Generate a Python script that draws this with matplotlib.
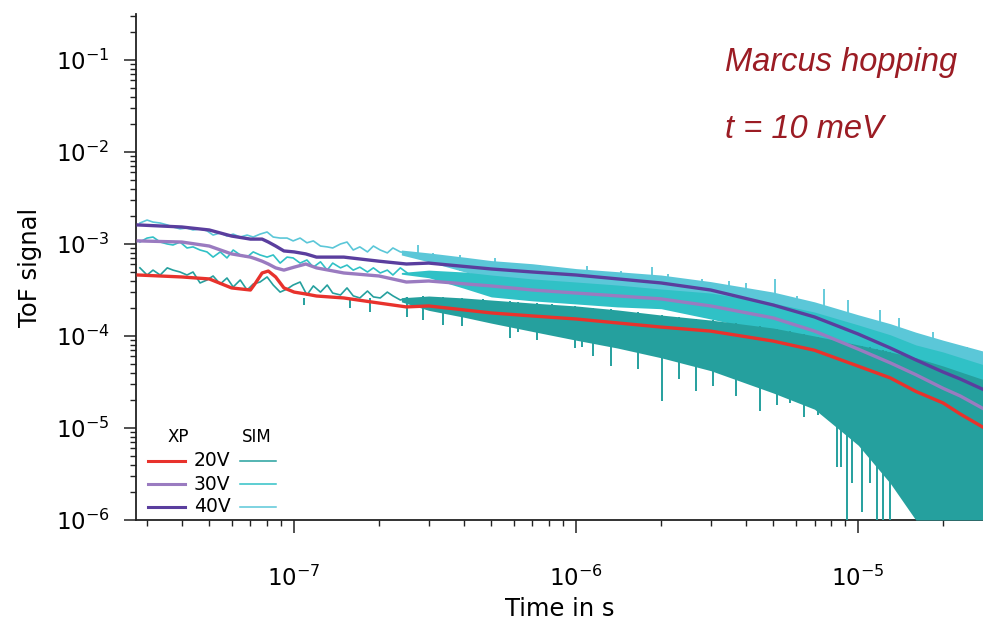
import numpy as np
import matplotlib
matplotlib.use("Agg")
import matplotlib.pyplot as plt
from matplotlib.lines import Line2D

plt.rcParams['font.family'] = ['DejaVu Sans']
plt.rcParams['mathtext.default'] = 'regular'

t_xp = [2.8e-8, 4e-8, 5e-8, 6e-8, 7e-8, 7.3e-8, 7.7e-8, 8.1e-8, 8.6e-8, 9.2e-8,
        1e-7, 1.1e-7, 1.2e-7, 1.5e-7, 2e-7, 2.5e-7, 3e-7, 5e-7, 7e-7, 1e-6,
        2e-6, 3e-6, 5e-6, 7e-6, 1e-5, 1.3e-5, 1.6e-5, 2e-5, 2.3e-5, 2.8e-5]
xp_20v = [4.6e-4, 4.38e-4, 4.17e-4, 3.33e-4, 3.16e-4, 3.77e-4, 4.84e-4, 5.08e-4, 4.38e-4, 3.33e-4,
          3.0e-4, 2.86e-4, 2.72e-4, 2.59e-4, 2.28e-4, 2.07e-4, 2.12e-4, 1.78e-4, 1.65e-4, 1.53e-4,
          1.25e-4, 1.13e-4, 8.8e-5, 7.0e-5, 4.7e-5, 3.5e-5, 2.5e-5, 1.87e-5, 1.42e-5, 1.0e-5]
xp_30v = [1.08e-3, 1.05e-3, 9.5e-4, 7.8e-4, 7.2e-4, 6.9e-4, 6.5e-4, 6.06e-4, 5.5e-4, 5.2e-4,
          5.6e-4, 6.06e-4, 5.5e-4, 4.84e-4, 4.49e-4, 3.86e-4, 3.96e-4, 3.5e-4, 3.16e-4, 2.93e-4,
          2.53e-4, 2.12e-4, 1.57e-4, 1.13e-4, 7.2e-5, 5.1e-5, 3.8e-5, 2.7e-5, 2.23e-5, 1.6e-5]
xp_40v = [1.61e-3, 1.53e-3, 1.42e-3, 1.22e-3, 1.13e-3, 1.13e-3, 1.13e-3, 1.05e-3, 9.5e-4, 8.4e-4,
          8.2e-4, 7.8e-4, 7.2e-4, 7.2e-4, 6.5e-4, 6.06e-4, 6.2e-4, 5.35e-4, 4.96e-4, 4.6e-4,
          3.77e-4, 3.16e-4, 2.17e-4, 1.61e-4, 1.05e-4, 7.4e-5, 5.5e-5, 4.06e-5, 3.41e-5, 2.59e-5]

# ---- simulation (SIM), early part as a line ----
t_sim_early = [2.84e-8, 3.01e-8, 3.16e-8, 3.35e-8, 3.55e-8, 3.72e-8, 3.94e-8, 4.17e-8, 4.38e-8, 4.64e-8,
               4.91e-8, 5.16e-8, 5.47e-8, 5.78e-8, 6.08e-8, 6.44e-8, 6.81e-8, 7.16e-8, 7.57e-8, 8.02e-8,
               8.43e-8, 8.92e-8, 9.44e-8, 9.92e-8, 1.05e-7, 1.11e-7, 1.17e-7, 1.24e-7, 1.31e-7, 1.37e-7,
               1.46e-7, 1.54e-7, 1.62e-7, 1.71e-7, 1.82e-7, 1.91e-7, 2.02e-7, 2.14e-7, 2.24e-7, 2.38e-7,
               2.52e-7]
sim_20v_early = [5.5e-4, 4.6e-4, 5.2e-4, 4.6e-4, 5.5e-4, 5.2e-4, 4.96e-4, 4.6e-4, 4.96e-4, 3.77e-4,
                 4.06e-4, 4.49e-4, 3.67e-4, 4.27e-4, 3.41e-4, 4.06e-4, 3.16e-4, 3.67e-4, 3.86e-4, 4.38e-4,
                 3.58e-4, 3.0e-4, 3.24e-4, 3.58e-4, 3.86e-4, 2.79e-4, 3.5e-4, 3.0e-4, 3.58e-4, 2.93e-4,
                 2.79e-4, 3.33e-4, 2.73e-4, 2.59e-4, 3.08e-4, 2.66e-4, 2.59e-4, 3.0e-4, 2.73e-4, 2.46e-4,
                 2.59e-4]
sim_30v_early = [1.05e-3, 1.16e-3, 1.19e-3, 1.05e-3, 1.0e-3, 9.75e-4, 1.05e-3, 9.05e-4, 9.3e-4, 8.6e-4,
                 8.2e-4, 7.2e-4, 8.2e-4, 7.05e-4, 8.6e-4, 7.6e-4, 7.2e-4, 8.2e-4, 7.6e-4, 7.2e-4,
                 7.6e-4, 6.2e-4, 7.2e-4, 7.05e-4, 6.2e-4, 6.7e-4, 5.6e-4, 6.4e-4, 5.2e-4, 6.2e-4,
                 5.5e-4, 5.9e-4, 5.2e-4, 5.6e-4, 4.96e-4, 5.5e-4, 4.84e-4, 5.2e-4, 4.6e-4, 5.5e-4,
                 4.84e-4]
sim_40v_early = [1.69e-3, 1.82e-3, 1.73e-3, 1.69e-3, 1.61e-3, 1.53e-3, 1.46e-3, 1.49e-3, 1.42e-3, 1.46e-3,
                 1.39e-3, 1.25e-3, 1.32e-3, 1.22e-3, 1.28e-3, 1.19e-3, 1.25e-3, 1.19e-3, 1.28e-3, 1.35e-3,
                 1.19e-3, 1.16e-3, 1.16e-3, 1.08e-3, 1.16e-3, 1.03e-3, 1.08e-3, 9.5e-4, 9.3e-4, 9.05e-4,
                 1.0e-3, 1.05e-3, 8.6e-4, 9.3e-4, 8.2e-4, 9.5e-4, 8.6e-4, 8.0e-4, 9.05e-4, 8.2e-4,
                 8.0e-4]

# ---- simulation, late part: body of the noise (upper / lower) ----
t_band = [2.4e-7, 3e-7, 4e-7, 5e-7, 7e-7, 1e-6, 1.4e-6, 2e-6, 3e-6, 5e-6, 7e-6,
          1e-5, 1.3e-5, 1.6e-5, 2e-5, 2.8e-5]
sim_20v_hi = [2.6e-4, 2.72e-4, 2.59e-4, 2.46e-4, 2.28e-4, 2.12e-4, 1.92e-4, 1.69e-4, 1.49e-4, 1.22e-4, 1.0e-4,
              8.0e-5, 6.7e-5, 5.8e-5, 4.72e-5, 3.33e-5]
sim_20v_lo = [2.35e-4, 1.9e-4, 1.6e-4, 1.38e-4, 1.12e-4, 9.0e-5, 7.4e-5, 5.8e-5, 4.2e-5, 2.4e-5, 1.6e-5,
              6.5e-6, 2.5e-6, 1e-6, 1e-6, 1e-6]
sim_30v_hi = [4.9e-4, 5.2e-4, 4.96e-4, 4.6e-4, 4.17e-4, 3.86e-4, 3.58e-4, 3.24e-4, 2.93e-4, 2.28e-4, 1.82e-4,
              1.32e-4, 1.03e-4, 8.0e-5, 6.7e-5, 4.84e-5]
sim_30v_lo = [4.7e-4, 4.3e-4, 3.3e-4, 2.66e-4, 2.41e-4, 2.23e-4, 2.07e-4, 1.98e-4, 1.53e-4, 1.08e-4, 7.05e-5,
              3.96e-5, 2.52e-5, 1.78e-5, 1.1e-5, 5.3e-6]
sim_40v_hi = [8.6e-4, 8.0e-4, 7.2e-4, 6.6e-4, 6.1e-4, 5.4e-4, 5.0e-4, 4.6e-4, 3.9e-4, 3.0e-4, 2.35e-4,
              1.7e-4, 1.36e-4, 1.1e-4, 9.0e-5, 6.8e-5]
sim_40v_lo = [7.6e-4, 6.4e-4, 5.0e-4, 4.17e-4, 3.86e-4, 3.77e-4, 3.33e-4, 2.93e-4, 2.46e-4, 1.49e-4, 1.05e-4,
              6.2e-5, 3.86e-5, 2.59e-5, 1.73e-5, 9.5e-6]

# downward spikes of the 20V simulation (tip values)
spike20_t = [1.08e-7, 1.58e-7, 1.86e-7, 2.52e-7, 2.87e-7, 3.38e-7, 3.94e-7, 4.68e-7, 5.83e-7, 6.23e-7,
             7.27e-7, 8.22e-7, 9.9e-7, 1.05e-6, 1.15e-6, 1.33e-6, 1.66e-6, 2.02e-6, 2.32e-6, 2.67e-6,
             3.06e-6, 3.69e-6, 4.49e-6, 5.16e-6, 5.74e-6, 6.44e-6, 7.21e-6, 8.43e-6, 8.71e-6, 9.14e-6,
             9.53e-6, 1.03e-5, 1.1e-5, 1.17e-5, 1.22e-5, 1.25e-5, 1.3e-5]
spike20_v = [2.17e-4, 2.01e-4, 1.82e-4, 1.61e-4, 1.49e-4, 1.32e-4, 1.28e-4, 1.57e-4, 9.5e-5, 1.1e-4,
             9.0e-5, 1.03e-4, 7.4e-5, 7.6e-5, 6.1e-5, 4.72e-5, 4.4e-5, 1.96e-5, 3.41e-5, 2.52e-5,
             2.86e-5, 2.23e-5, 1.53e-5, 1.78e-5, 1.87e-5, 1.32e-5, 1.38e-5, 3.77e-6, 3.77e-6, 1e-6,
             2.52e-6, 1.22e-6, 2.52e-6, 1e-6, 1e-6, 3.67e-6, 1e-6]
# upward spikes of the 40V simulation (tip values)
spike40_t = [2.75e-7, 3.11e-7, 3.88e-7, 5.16e-7, 7.45e-7, 1.09e-6, 1.44e-6, 1.86e-6, 2.12e-6, 2.8e-6,
             3.49e-6, 4.01e-6, 5.08e-6, 6.08e-6, 7.57e-6, 9.22e-6, 1.19e-5, 1.4e-5, 1.84e-5, 2.44e-5]
spike40_v = [9.75e-4, 8.0e-4, 7.6e-4, 7.05e-4, 5.9e-4, 5.8e-4, 5.09e-4, 5.6e-4, 4.72e-4, 4.17e-4,
             3.96e-4, 3.77e-4, 4.17e-4, 2.72e-4, 3.24e-4, 2.46e-4, 1.92e-4, 1.57e-4, 1.1e-4, 7.6e-5]

c_red = '#e8322c'
c_p30 = '#9a7bc0'
c_p40 = '#5a3e9e'
c_s20 = '#25a09e'
c_s30 = '#30c1c6'
c_s40 = '#5bc7d8'
c_txt = '#9b1c24'

fig = plt.figure(figsize=(9.83, 6.26), dpi=100)
ax = fig.add_axes([136 / 983, 1 - 520 / 626, 847 / 983, 506 / 626])
ax.set_xscale('log')
ax.set_yscale('log')

# simulations (40V underneath, 20V on top)
for v_e, hi, lo, col, z in [(sim_40v_early, sim_40v_hi, sim_40v_lo, c_s40, 1),
                            (sim_30v_early, sim_30v_hi, sim_30v_lo, c_s30, 2),
                            (sim_20v_early, sim_20v_hi, sim_20v_lo, c_s20, 3)]:
    ax.plot(t_sim_early, v_e, color=col, lw=1.2, zorder=z)
    ax.fill_between(t_band, lo, hi, color=col, lw=0, zorder=z)

# spikes start inside the noise body
base40 = np.exp(np.interp(np.log(spike40_t), np.log(t_band), np.log(sim_40v_lo)))
ax.vlines(spike40_t, base40, spike40_v, color=c_s40, lw=1.3, zorder=1)
base20 = np.exp(np.interp(np.log(spike20_t), np.log(t_band), np.log(sim_20v_hi)))
ax.vlines(spike20_t, spike20_v, base20, color=c_s20, lw=1.4, zorder=3)

# experiments
ax.plot(t_xp, xp_20v, color=c_red, lw=2.4, zorder=5)
ax.plot(t_xp, xp_30v, color=c_p30, lw=2.4, zorder=5)
ax.plot(t_xp, xp_40v, color=c_p40, lw=2.4, zorder=5)

ax.set_xlim(2.75e-8, 2.77e-5)
ax.set_ylim(1e-6, 0.316)

for s in ['top', 'right']:
    ax.spines[s].set_visible(False)
for s in ['left', 'bottom']:
    ax.spines[s].set_linewidth(1.3)
    ax.spines[s].set_color('#222222')
ax.tick_params(which='major', direction='out', length=9, width=1.1, labelsize=16.5, color='#222222')
ax.tick_params(which='minor', direction='out', length=4.5, width=1.0, color='#222222')
ax.tick_params(axis='x', which='major', pad=24)
ax.tick_params(axis='y', which='major', pad=10)

ax.set_xlabel('Time in s', fontsize=17.5, labelpad=4)
ax.set_ylabel('ToF signal', fontsize=17.5, labelpad=10)

# annotations
fig.text(725 / 983, 1 - 62 / 626, 'Marcus hopping', fontsize=23.5, style='italic',
         color=c_txt, va='center', ha='left', family='Liberation Sans')
fig.text(725 / 983, 1 - 130 / 626, 't = 10 meV', fontsize=23.5, style='italic',
         color=c_txt, va='center', ha='left', family='Liberation Sans')

# hand-made legend
def fx(px):
    return px / 983

def fy(py):
    return 1 - py / 626

fig.text(fx(178), fy(437), 'XP', fontsize=12, ha='center', va='center')
fig.text(fx(257), fy(437), 'SIM', fontsize=12, ha='center', va='center')
rows = [('20V', c_red, c_s20, 461), ('30V', c_p30, c_s30, 484), ('40V', c_p40, c_s40, 507)]
for lab, cx, cs, py in rows:
    fig.add_artist(Line2D([fx(148), fx(185)], [fy(py), fy(py)], color=cx, lw=2.2))
    fig.add_artist(Line2D([fx(240), fx(276)], [fy(py), fy(py)], color=cs, lw=1.1))
    fig.text(fx(212), fy(py), lab, fontsize=13.5, ha='center', va='center')

fig.savefig('out.png', dpi=100)
